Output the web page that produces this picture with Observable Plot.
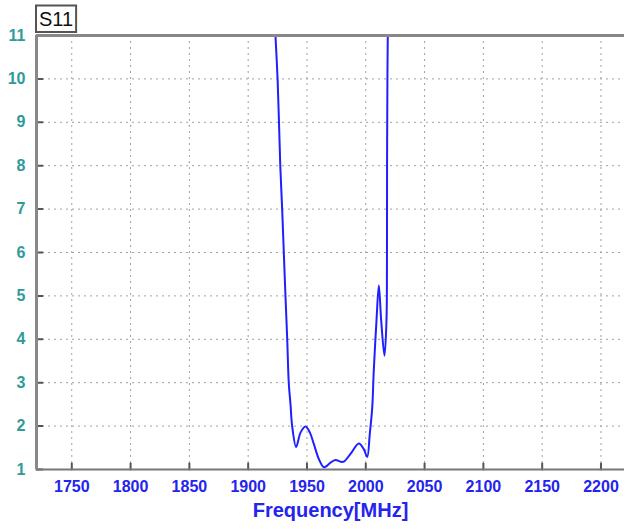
<!DOCTYPE html>
<html>
<head>
<meta charset="utf-8">
<script src="https://cdn.jsdelivr.net/npm/d3@7"></script>
<script src="https://cdn.jsdelivr.net/npm/@observablehq/plot@0.6"></script>
<style>
  html, body { margin: 0; padding: 0; background: #fff; }
  #chart svg { display: block; }
</style>
</head>
<body>
<div id="chart"></div>
<script>
const title = "S11";
const xLabel = "Frequency[MHz]";
const xTicks = [1750, 1800, 1850, 1900, 1950, 2000, 2050, 2100, 2150, 2200];
const yTicks = [1, 2, 3, 4, 5, 6, 7, 8, 9, 10, 11];
const xDomain = [1720, 2220];
const yDomain = [1, 11];

const freq = [1923.2, 1925.0, 1926.2, 1927.3, 1928.9, 1930.3, 1931.7, 1933.2, 1934.5, 1936.0,
              1937.4, 1940.8, 1944.5, 1948.7, 1952.5, 1955.8, 1960.1, 1964.3, 1967.2,
              1970.0, 1974.3, 1978.5, 1981.3, 1987.0, 1994.1, 1998.3, 2001.2, 2003.4, 2005.5,
              2006.8, 2009.1, 2011.1, 2013.1, 2015.9, 2017.6, 2018.0, 2018.1, 2018.4, 2018.7];
const s11  = [11.0, 10.0, 9.0, 8.0, 7.0, 6.0, 5.0, 4.0, 3.0, 2.5,
              2.0, 1.52, 1.85, 1.99, 1.85, 1.59, 1.24, 1.05, 1.09,
              1.16, 1.22, 1.18, 1.18, 1.36, 1.60, 1.47, 1.29, 1.82, 2.43,
              3.28, 4.43, 5.24, 4.43, 3.62, 4.43, 5.58, 8.0, 10.0, 11.0];

const data = freq.map((f, i) => ({f, v: s11[i]}));

const tickShape = {draw(context, l) { context.moveTo(0, 0); context.lineTo(0, -l); }};
const font = "'Liberation Sans', Arial, sans-serif";

const chart = Plot.plot({
  width: 625,
  height: 529,
  marginLeft: 36,
  marginRight: 1,
  marginTop: 35,
  marginBottom: 60,
  style: {fontFamily: font, fontWeight: "bold", background: "#fff"},
  x: {domain: xDomain, ticks: xTicks, tickFormat: "d"},
  y: {domain: yDomain, ticks: yTicks, tickFormat: "d"},
  marks: [
    Plot.gridX(xTicks, {stroke: "#a0a0a0", strokeOpacity: 1, strokeDasharray: "2,4"}),
    Plot.gridY(yTicks, {stroke: "#a0a0a0", strokeOpacity: 1, strokeDasharray: "2,4"}),
    Plot.line(data, {x: "f", y: "v", stroke: "#1f1fff", strokeWidth: 2, curve: "catmull-rom", clip: true}),
    Plot.vector(xTicks, {x: d => d, y: yDomain[0], length: 6, anchor: "start", shape: tickShape, stroke: "#555", strokeWidth: 2}),
    Plot.vector(yTicks, {x: xDomain[0], y: d => d, length: 6, rotate: 90, anchor: "start", shape: tickShape, stroke: "#555", strokeWidth: 2}),
    Plot.ruleY([yDomain[0]], {stroke: "#777", strokeWidth: 2}),
    Plot.ruleY([yDomain[1]], {stroke: "#888", strokeWidth: 3}),
    Plot.ruleX([xDomain[0]], {stroke: "#888", strokeWidth: 3}),
    Plot.axisX(xTicks, {tickSize: 0, tickPadding: 11, tickFormat: "d", fontSize: 16, fontWeight: "bold", fill: "#2424ee", label: null}),
    Plot.axisY(yTicks, {tickSize: 0, tickPadding: 11, tickFormat: "d", fontSize: 16, fontWeight: "bold", fill: "#2f9a9a", label: null}),
    Plot.text([xLabel], {frameAnchor: "bottom", dy: 41, lineAnchor: "middle", fontSize: 20, fontWeight: "bold", fill: "#2424ee"})
  ]
});

document.getElementById("chart").appendChild(chart);

// Title box "S11" at the top-left corner of the frame
const svg = d3.select(chart);
const x0 = chart.scale("x").apply(xDomain[0]);
const g = svg.append("g");
const t = g.append("text")
  .attr("x", x0 + 3)
  .attr("y", 26)
  .attr("text-anchor", "start")
  .attr("font-family", font)
  .attr("font-size", 20)
  .attr("font-weight", "normal")
  .attr("fill", "#111")
  .text(title);
const bb = t.node().getBBox();
g.insert("rect", "text")
  .attr("x", x0)
  .attr("y", 5.5)
  .attr("width", bb.width + 6)
  .attr("height", 26.5)
  .attr("fill", "#fff")
  .attr("stroke", "#555")
  .attr("stroke-width", 2);
</script>
</body>
</html>
